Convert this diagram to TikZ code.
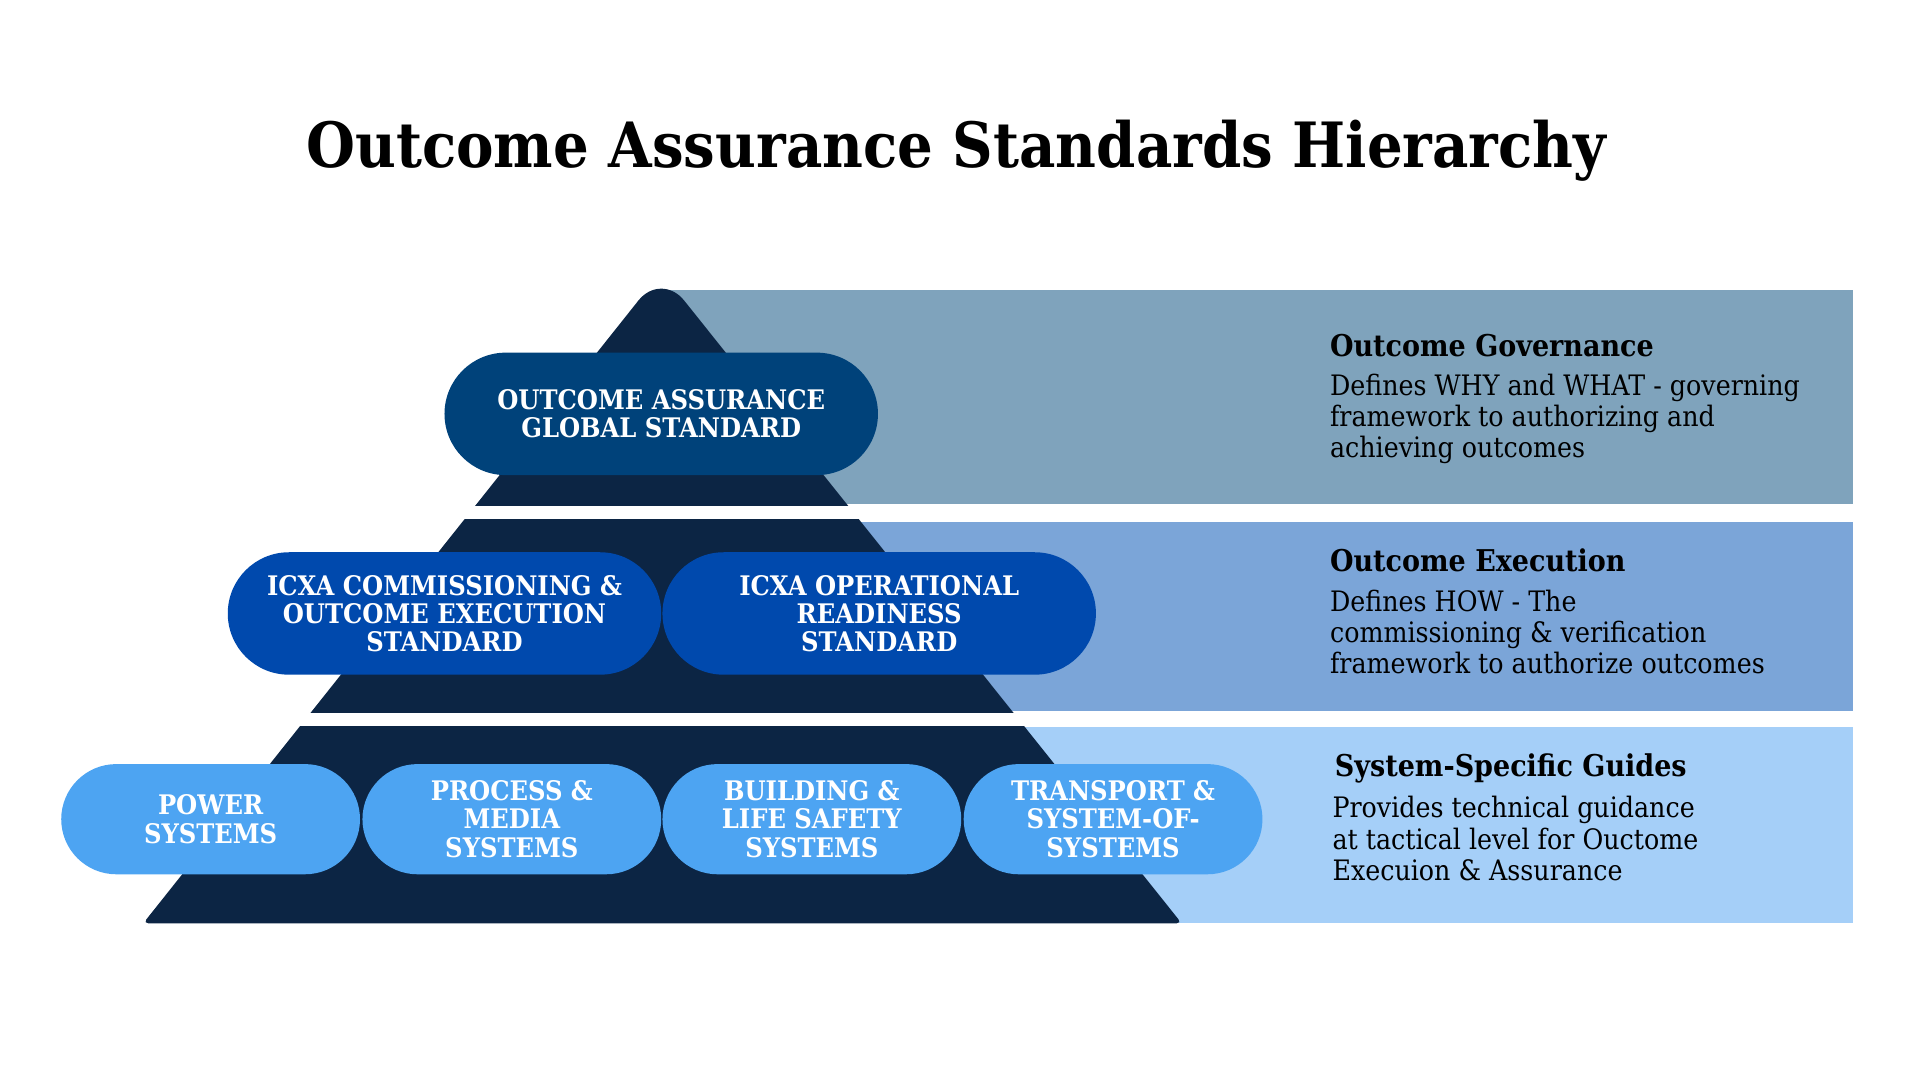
\documentclass[tikz,border=0pt]{standalone}
\usepackage{fontspec}
\setmainfont[FakeStretch=0.9]{DejaVu Serif}
\definecolor{navy}{HTML}{0C2544}
\definecolor{govband}{HTML}{7FA3BC}
\definecolor{exeband}{HTML}{7BA5D8}
\definecolor{sysband}{HTML}{A5CFF8}
\definecolor{govpill}{HTML}{00427A}
\definecolor{exepill}{HTML}{0049AD}
\definecolor{syspill}{HTML}{4DA4F2}
\begin{document}
\begin{tikzpicture}[x=1pt,y=-1pt,
  pill/.style={rectangle, text=white, align=center, inner sep=0pt,
    font=\fontsize{22}{23}\selectfont\bfseries},
  bigpill/.style={pill, minimum width=354pt, minimum height=100pt, rounded corners=50pt},
  smallpill/.style={pill, minimum width=244pt, minimum height=90pt, rounded corners=45pt},
  head/.style={anchor=base west, inner sep=0pt, font=\fontsize{24.5}{28}\selectfont\bfseries},
  body/.style={anchor=base west, inner sep=0pt, align=left, font=\fontsize{23}{25.5}\selectfont}]
\useasboundingbox (0,0) rectangle (1568,882);

% title
\node[font=\fontsize{51}{60}\selectfont\bfseries] (title) at (781,123) {Outcome Assurance Standards Hierarchy};

% bands
\fill[govband] (545,237) rectangle (1513,412);
\fill[exeband] (545,426) rectangle (1513,581);
\fill[sysband] (545,594) rectangle (1513,754);

% pyramid
\fill[navy] (117,754) [rounded corners=30pt] -- (540,222) [rounded corners=4pt] -- (965,754) -- cycle;
\fill[white] (100,413) rectangle (1000,424);
\fill[white] (100,582) rectangle (1000,593);

% pills
\node[bigpill, fill=govpill] (global) at (540,338) {OUTCOME ASSURANCE\\GLOBAL STANDARD};
\node[bigpill, fill=exepill] (commissioning) at (363,501) {ICXA COMMISSIONING \&\\OUTCOME EXECUTION\\STANDARD};
\node[bigpill, fill=exepill] (readiness) at (718,501) {ICXA OPERATIONAL\\READINESS\\STANDARD};
\node[smallpill, fill=syspill] (power) at (172,669) {POWER\\SYSTEMS};
\node[smallpill, fill=syspill] (process) at (418,669) {PROCESS \&\\MEDIA\\SYSTEMS};
\node[smallpill, fill=syspill] (building) at (663,669) {BUILDING \&\\LIFE SAFETY\\SYSTEMS};
\node[smallpill, fill=syspill] (transport) at (909,669) {TRANSPORT \&\\SYSTEM-OF-\\SYSTEMS};

% labels (body nodes sit on their last baseline)
\node[head] (govhead) at (1086,291) {Outcome Governance};
\node[body] (govbody) at (1086,374) {Defines WHY and WHAT - governing\\framework to authorizing and\\achieving outcomes};
\node[head] (exehead) at (1086,467) {Outcome Execution};
\node[body] (exebody) at (1086,550) {Defines HOW - The\\commissioning \& verification\\framework to authorize outcomes};
\node[head] (syshead) at (1090,634) {System-Specific Guides};
\node[body] (sysbody) at (1088,719) {Provides technical guidance\\at tactical level for Ouctome\\Execuion \& Assurance};
\end{tikzpicture}
\end{document}
